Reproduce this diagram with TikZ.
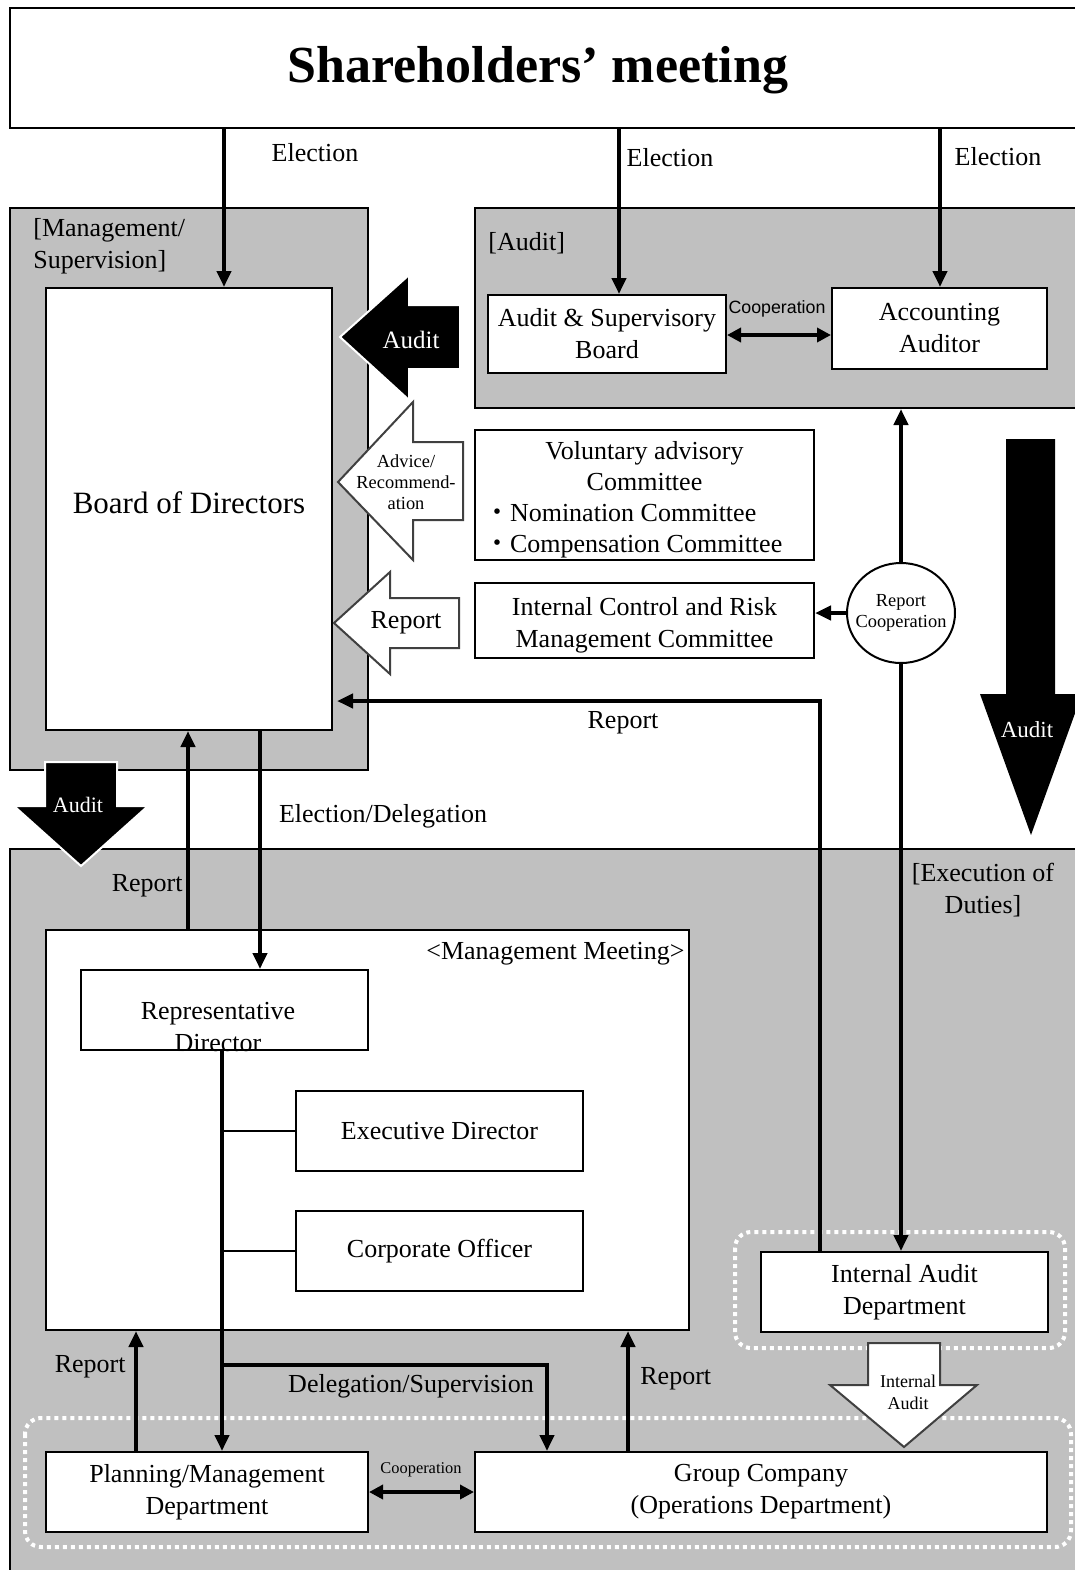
\documentclass[tikz,border=0pt]{standalone}
\usepackage{fontspec}
\setmainfont{Liberation Serif}
\newfontfamily\sansf{Liberation Sans}
\newfontfamily\cjkf{Noto Sans CJK JP}
\usetikzlibrary{arrows.meta,shapes.geometric}
\definecolor{regiongray}{RGB}{192,192,192}
\definecolor{outlinegray}{RGB}{64,64,64}
\begin{document}
\begin{tikzpicture}[x=0.5pt,y=-0.5pt,
 pxbox/.style n args={4}{at={({(#1+#3)/2},{(#2+#4)/2})}, minimum width={(#3-#1)*0.5pt}, minimum height={(#4-#2)*0.5pt}},
 txt/.style={inner sep=0pt, align=center, yshift=-1.5pt, font=\fontsize{13}{16}\selectfont},
 boxtxt/.style={inner sep=0pt, align=center, font=\fontsize{13}{16}\selectfont},
 small/.style={inner sep=0pt, align=center, font=\fontsize{9.2}{10.5}\selectfont},
 box/.style={draw, fill=white, line width=1pt, inner sep=0pt, align=center, font=\fontsize{13}{16}\selectfont},
 region/.style={draw, fill=regiongray, line width=1pt, inner sep=0pt},
 dotbox/.style={draw=white, line width=2pt, dash pattern=on 2pt off 2pt, rounded corners=8pt},
 arr/.style={line width=2pt, -{Triangle[length=8pt,width=7pt]}},
 dbl/.style={line width=2pt, {Triangle[length=7pt,width=7pt]}-{Triangle[length=7pt,width=7pt]}},
 thinline/.style={line width=1.3pt},
 blackarrow/.style={fill=black, draw=white, line width=1pt},
 whitearrow/.style={fill=white, draw=outlinegray, line width=1pt},
 wtxt/.style={inner sep=0pt, text=white, font=\fontsize{12.5}{15}\selectfont}
]
\useasboundingbox (0,0) rectangle (1075,1570);
\fill[white] (0,0) rectangle (1075,1570);

% regions
\node[region, pxbox={10}{208}{368}{770}] (mgmtreg) {};
\node[region, pxbox={475}{208}{1095}{408}] (auditreg) {};
\node[region, pxbox={10}{849}{1095}{1590}] (execreg) {};
\node[txt, anchor=west, align=left] (mgmtL) at (33,243) {[Management/\\Supervision]};
\node[txt, anchor=west] (auditL) at (488,240) {[Audit]};
\node[txt] (execL) at (983,887) {[Execution of\\Duties]};

% dotted groups
\draw[dotbox] (735,1232) rectangle (1065,1348);
\draw[dotbox] (25,1418) rectangle (1071,1547);

% shareholders
\node[box, pxbox={10}{8}{1095}{128}] (sh) {};
\node[inner sep=0pt, font=\bfseries\fontsize{26}{30}\selectfont] (shT) at (538,70) {Shareholders’ meeting};

% boxes
\node[box, pxbox={46}{288}{332}{730}] (board) {};
\node[boxtxt, font=\fontsize{15.5}{18}\selectfont] (boardT) at (189,503) {Board of Directors};
\node[box, pxbox={488}{295}{726}{373}] (asb) {Audit \& Supervisory\\Board};
\node[box, pxbox={832}{288}{1047}{369}] (acc) {Accounting\\Auditor};
\node[box, pxbox={475}{430}{814}{560}] (vac) {};
\node[boxtxt, font=\fontsize{13}{15.5}\selectfont] (vacT) at (644.5,500) {Voluntary advisory\\Committee\\\makebox[160.5pt][l]{{\cjkf ・}Nomination Committee}\\\makebox[160.5pt][l]{{\cjkf ・}Compensation Committee}};
\node[box, pxbox={475}{583}{814}{658}] (icc) {};
\node[boxtxt] (iccT) at (644.5,625.5) {Internal Control and Risk\\Management Committee};
\node[draw, fill=white, ellipse, line width=1pt, minimum width=54pt, minimum height=50pt, inner sep=0pt] (rc) at (901,613) {};
\node[small] (rcT) at (rc.center) {Report\\Cooperation};

\node[box, pxbox={46}{930}{689}{1330}] (mm) {};
\node[txt, anchor=east] (mmL) at (685,951) {<Management Meeting>};
\node[box, pxbox={81}{970}{368}{1050}] (rd) {};
\node[boxtxt] (rdT) at (218,1027) {Representative\\Director};
\node[box, pxbox={296}{1091}{583}{1171}] (ed) {Executive Director};
\node[box, pxbox={296}{1211}{583}{1291}] (co) {Corporate Officer};
\node[box, pxbox={46}{1452}{368}{1532}] (pm) {Planning/Management\\Department};
\node[box, pxbox={475}{1452}{1047}{1532}] (gc) {Group Company\\(Operations Department)};
\node[box, pxbox={761}{1252}{1048}{1332}] (iad) {Internal Audit\\Department};

% block arrows
\draw[blackarrow] (340,337) -- (409,275) -- (409,305) -- (460,305) -- (460,369) -- (409,369) -- (409,400) -- cycle;
\node[wtxt] (auditA) at (411,340) {Audit};
\draw[whitearrow] (338,482) -- (413,402) -- (413,442) -- (463,442) -- (463,520) -- (413,520) -- (413,560) -- cycle;
\node[small] (adviceT) at (406,482) {Advice/\\Recommend-\\ation};
\draw[whitearrow] (334,623) -- (390,572) -- (390,598) -- (459,598) -- (459,648) -- (390,648) -- (390,674) -- cycle;
\node[boxtxt] (reportA) at (406,623) {Report};
\draw[blackarrow] (45,762) -- (117,762) -- (117,806) -- (148,806) -- (81,866) -- (14,806) -- (45,806) -- cycle;
\node[wtxt, font=\fontsize{11}{13}\selectfont] (auditS) at (78,805) {Audit};
\draw[fill=black, draw=none] (1006,439) -- (1055,439) -- (1055,694) -- (1082,694) -- (1031,835) -- (980,694) -- (1006,694) -- cycle;
\node[wtxt, font=\fontsize{11.5}{13}\selectfont] (auditR) at (1027,730) {Audit};
\draw[whitearrow] (868,1343) -- (940,1343) -- (940,1385) -- (977,1385) -- (904,1447) -- (830,1385) -- (868,1385) -- cycle;
\node[small, font=\fontsize{9}{11}\selectfont] (iaT) at (908,1392) {Internal\\Audit};

% connectors
\draw[arr] (sh.south -| 224,0) -- (board.north -| 224,0);
\node[boxtxt] (el1) at (315,153) {Election};
\draw[arr] (sh.south -| 619,0) -- (asb.north -| 619,0);
\node[boxtxt] (el2) at (670,158) {Election};
\draw[arr] (sh.south -| 940,0) -- (acc.north -| 940,0);
\node[boxtxt] (el3) at (998,157) {Election};
\draw[dbl] (asb.east |- 0,335) -- (acc.west |- 0,335);
\node[inner sep=0pt, font=\sansf\fontsize{8.9}{10}\selectfont] (coopT) at (777,309) {Cooperation};

\draw[arr] (rc.north) -- (auditreg.south -| rc.north);
\draw[arr] (rc.south) -- (iad.north -| rc.south);
\draw[arr] (rc.west) -- (icc.east |- rc.west);

\draw[arr, shorten >=2pt] (iad.north -| 820,0) |- (board.east |- 0,701);
\node[txt] (rep1) at (623,720) {Report};

\draw[arr] (mm.north -| 188,0) -- (board.south -| 188,0);
\node[txt, anchor=east] (rep2) at (183,883) {Report};
\draw[arr] (board.south -| 260,0) -- (rd.north -| 260,0);
\node[txt] (eld) at (383,813) {Election/Delegation};

\draw[arr] (rd.south -| 222,0) -- (pm.north -| 222,0);
\draw[thinline] (ed.west) -- (ed.west -| 222,0);
\draw[thinline] (co.west) -- (co.west -| 222,0);
\coordinate (br) at (222,1365);
\draw[arr] (br) -| (gc.north -| 547,0);
\node[txt] (dls) at (411,1383) {Delegation/Supervision};

\draw[arr] (pm.north -| 136,0) -- (mm.south -| 136,0);
\node[txt, anchor=east] (rep3) at (126,1364) {Report};
\draw[arr] (gc.north -| 628,0) -- (mm.south -| 628,0);
\node[txt, anchor=west] (rep4) at (640,1376) {Report};
\draw[dbl] (pm.east) -- (gc.west);
\node[inner sep=0pt, font=\fontsize{8.2}{10}\selectfont] (coopB) at (421,1470) {Cooperation};
\end{tikzpicture}
\end{document}
